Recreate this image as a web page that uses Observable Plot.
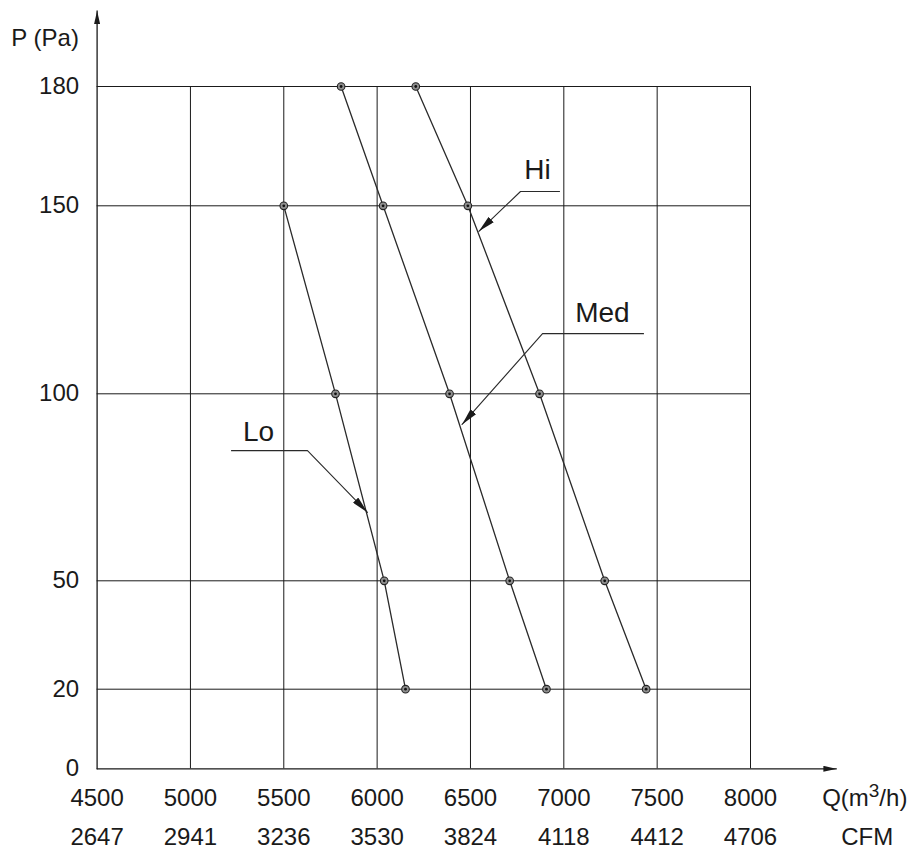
<!DOCTYPE html>
<html><head><meta charset="utf-8">
<script src="https://cdn.jsdelivr.net/npm/d3@7"></script>
<script src="https://cdn.jsdelivr.net/npm/@observablehq/plot@0.6"></script>
<style>html,body{margin:0;background:#fff} #chart svg{display:block}</style>
</head><body><div id="chart"></div>
<script>
// Tick labels
const flowTicks = [4500, 5000, 5500, 6000, 6500, 7000, 7500, 8000];
const cfmTicks = [2647, 2941, 3236, 3530, 3824, 4118, 4412, 4706];
const pressureTicks = [0, 20, 50, 100, 150, 180];
const gridPressure = [20, 50, 100, 150, 180];

// Fan curves: flow Q (m3/h) at pressure P (Pa)
const hiPressure = [180, 150, 100, 50, 20];
const hiFlow = [6207, 6486, 6870, 7219, 7441];
const medPressure = [180, 150, 100, 50, 20];
const medFlow = [5807, 6032, 6388, 6710, 6907];
const loPressure = [150, 100, 50, 20];
const loFlow = [5500, 5777, 6038, 6152];

// Curve labels and their leader lines
const curveNames = ["Hi", "Med", "Lo"];
const labelFlow = [6859, 7207, 5365];
const labelPressure = [158.9, 121.6, 89.9];
const leaderFlow = [[6977, 6768, 6545], [7427, 6886, 6455], [5220, 5627, 5948]];
const leaderPressure = [[153.6, 153.6, 143.2], [116, 116, 91.8], [84.8, 84.8, 68.3]];

// Axis arrows
const axisNames = ["P", "Q"];
const axisFlow = [[4500, 4500], [4500, 8460]];
const axisPressure = [[0, 199], [0, 0]];

const curves = [
  ...hiFlow.map((q, i) => ({name: "Hi", q, p: hiPressure[i]})),
  ...medFlow.map((q, i) => ({name: "Med", q, p: medPressure[i]})),
  ...loFlow.map((q, i) => ({name: "Lo", q, p: loPressure[i]}))
];
const leaders = curveNames.flatMap((name, k) => leaderFlow[k].map((q, i) => ({name, q, p: leaderPressure[k][i]})));
const labels = curveNames.map((name, k) => ({name, q: labelFlow[k], p: labelPressure[k]}));
const axes = axisNames.flatMap((name, k) => axisFlow[k].map((q, i) => ({name, q, p: axisPressure[k][i]})));

const font = "'Liberation Sans', Arial, sans-serif";
const ink = "#1a1a1a";

const svg = Plot.plot({
  width: 914,
  height: 849,
  marginLeft: 96.6,
  marginRight: 164,
  marginTop: 86,
  marginBottom: 81,
  style: {fontFamily: font, background: "#fff", color: ink},
  x: {domain: [4500, 8000], axis: null},
  y: {type: "linear", domain: pressureTicks, range: [768.3, 688.7, 580.3, 393.3, 205.3, 86], axis: null},
  marks: [
    Plot.ruleX(flowTicks.slice(1), {x: d => d, y1: 0, y2: 180, stroke: ink, strokeWidth: 1}),
    Plot.ruleY(gridPressure, {y: d => d, x1: 4500, x2: 8000, stroke: ink, strokeWidth: 1}),
    Plot.line(axes, {x: "q", y: "p", z: "name", stroke: ink, strokeWidth: 1.3, ariaDescription: "axisarrow"}),
    Plot.line(curves, {x: "q", y: "p", z: "name", stroke: "#2a2a2a", strokeWidth: 1.3}),
    Plot.dot(curves, {x: "q", y: "p", r: 3.8, fill: "#8f8f8f", stroke: "#222", strokeWidth: 1.1}),
    Plot.dot(curves, {x: "q", y: "p", r: 1.4, fill: "#111"}),
    Plot.line(leaders, {x: "q", y: "p", z: "name", stroke: "#2a2a2a", strokeWidth: 1.1, ariaDescription: "leader"}),
    Plot.text(labels, {x: "q", y: "p", text: "name", fontSize: 28, fill: ink}),
    Plot.text(pressureTicks, {x: 4500, y: d => d, text: d => String(d), dx: -18, textAnchor: "end", fontSize: 24, fill: ink}),
    Plot.text(flowTicks, {x: d => d, y: 0, text: d => String(d), dy: 30, fontSize: 24, fill: ink}),
    Plot.text(cfmTicks, {x: (d, i) => flowTicks[i], y: 0, text: d => String(d), dy: 69, fontSize: 24, fill: ink}),
    Plot.text(["Q(m3/h)"], {x: 8612, y: 0, text: d => d, dy: 30, fontSize: 24, fill: ink, ariaDescription: "qunit"}),
    Plot.text(["CFM"], {x: 8625, y: 0, text: d => d, dy: 69, fontSize: 24, fill: ink}),
    Plot.text(["P (Pa)"], {x: 4500, y: 192.1, text: d => d, dx: -52, fontSize: 24, fill: ink})
  ]
});

// Filled arrowheads
const NS = "http://www.w3.org/2000/svg";
const defs = document.createElementNS(NS, "defs");
function addMarker(id, len, wid) {
  const m = document.createElementNS(NS, "marker");
  m.setAttribute("id", id);
  m.setAttribute("viewBox", `0 ${-wid / 2} ${len} ${wid}`);
  m.setAttribute("refX", len);
  m.setAttribute("refY", 0);
  m.setAttribute("markerWidth", len);
  m.setAttribute("markerHeight", wid);
  m.setAttribute("markerUnits", "userSpaceOnUse");
  m.setAttribute("orient", "auto");
  const p = document.createElementNS(NS, "path");
  p.setAttribute("d", `M0,${-wid / 2}L${len},0L0,${wid / 2}Z`);
  p.setAttribute("fill", ink);
  p.setAttribute("stroke", "none");
  m.appendChild(p);
  defs.appendChild(m);
}
addMarker("ah-axis", 13, 6);
addMarker("ah-leader", 17, 7.5);
svg.insertBefore(defs, svg.firstChild);
svg.querySelectorAll('[aria-description="axisarrow"] path').forEach(p => p.setAttribute("marker-end", "url(#ah-axis)"));
svg.querySelectorAll('[aria-description="leader"] path').forEach(p => p.setAttribute("marker-end", "url(#ah-leader)"));

// Superscript in the flow unit
svg.querySelectorAll('[aria-description="qunit"] text').forEach(t => {
  while (t.firstChild) t.removeChild(t.firstChild);
  const a = document.createElementNS(NS, "tspan"); a.textContent = "Q(m";
  const b = document.createElementNS(NS, "tspan"); b.textContent = "3"; b.setAttribute("dy", "-9"); b.setAttribute("font-size", "19");
  const c = document.createElementNS(NS, "tspan"); c.textContent = "/h)"; c.setAttribute("dy", "9");
  t.append(a, b, c);
});

document.getElementById("chart").appendChild(svg);
</script>
</body></html>
